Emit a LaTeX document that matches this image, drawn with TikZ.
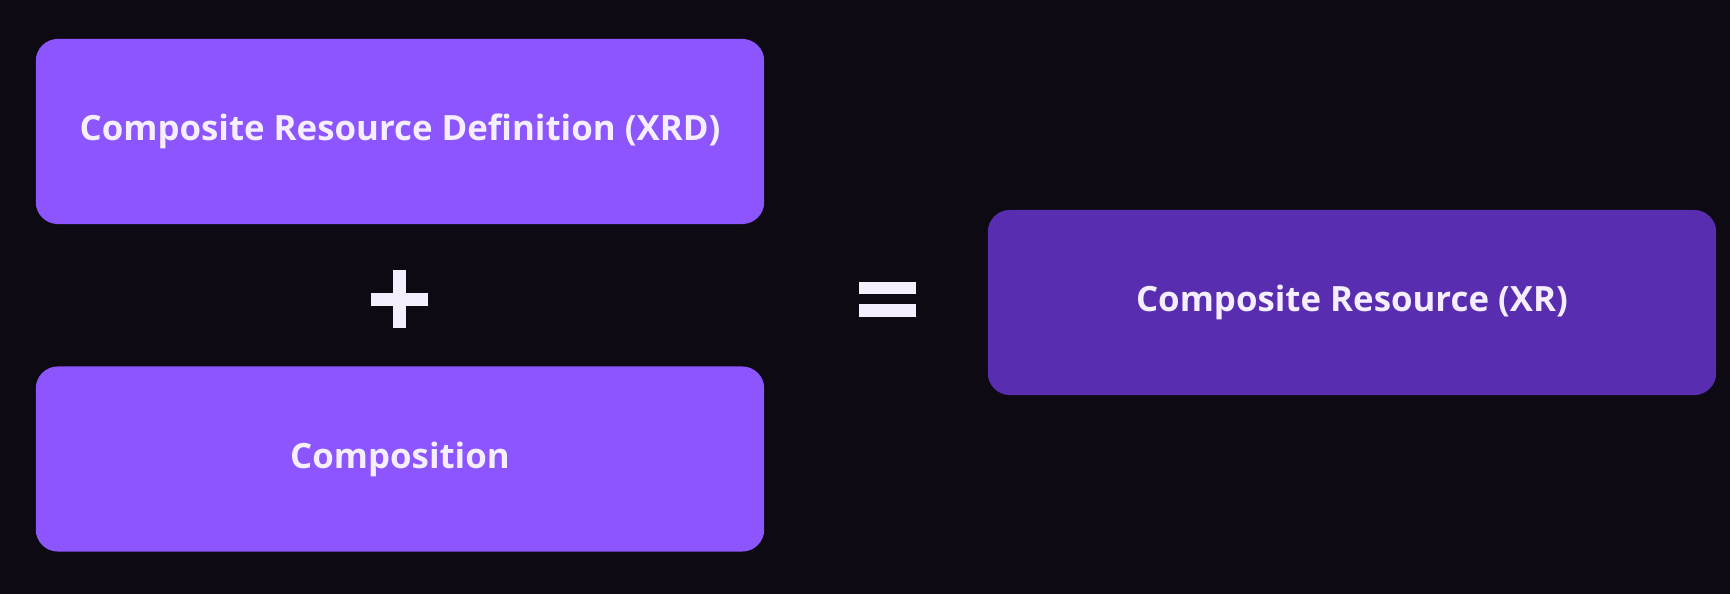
\documentclass[tikz,border=0pt]{standalone}
\usepackage{fontspec}
\setmainfont{Open Sans}
\usepackage{tikz}
\usetikzlibrary{positioning}

\definecolor{bgdark}{HTML}{0D0A14}
\definecolor{violetlight}{HTML}{8C55FD}
\definecolor{violetdark}{HTML}{582DB0}
\definecolor{labelwhite}{HTML}{F4EEFF}

\tikzset{
    box/.style={rounded corners=0.22cm, minimum width=7.28cm, minimum height=1.85cm,
        inner sep=0pt, text=labelwhite, font=\fontsize{9.9}{12}\selectfont\bfseries},
    sign/.style={fill=labelwhite}
}

\begin{document}
\begin{tikzpicture}[x=0.01cm,y=0.01cm]
        \fill[bgdark] (0,0) rectangle (1730,-594);
        \useasboundingbox (0,0) rectangle (1730,-594);
        \node [box, fill=violetlight] (xrd) at (400,-131.5) {Composite Resource Definition (XRD)};
        \node [box, fill=violetlight] (comp) at (400,-459) {Composition};
        \node [box, fill=violetdark] (xr) at (1352,-302.5) {Composite Resource (XR)};
        % plus
        \fill[sign] (371,-292.5) rectangle (428,-305.5);
        \fill[sign] (393,-270) rectangle (406,-328);
        % equals
        \fill[sign] (859,-281.5) rectangle (916,-294);
        \fill[sign] (859,-304) rectangle (916,-317);
    \end{tikzpicture}
\end{document}
